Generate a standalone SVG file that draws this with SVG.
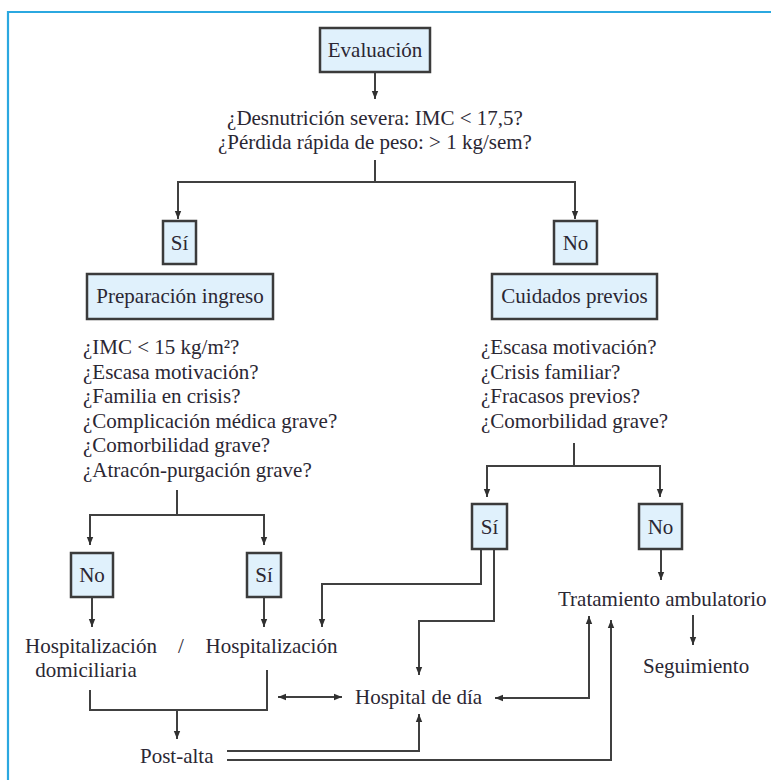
<svg xmlns="http://www.w3.org/2000/svg" width="771" height="780" viewBox="0 0 771 780">
  <style>
    .box { fill: #e0f1fc; stroke: #3b3b3b; stroke-width: 2.5; }
    .t { font-family: 'Liberation Serif', 'DejaVu Serif', serif; font-size: 21px; fill: #2b2733; }
    .c { text-anchor: middle; }
    .ln { fill: none; stroke: #404040; stroke-width: 2; }
    .arr { marker-end: url(#ah); }
  </style>
  <defs>
    <marker id="ah" viewBox="0 0 10 10" refX="10" refY="5" markerWidth="8" markerHeight="8" markerUnits="userSpaceOnUse" orient="auto-start-reverse">
      <path d="M0,1 L10,5 L0,9 z" fill="#303030"/>
    </marker>
  </defs>

  <rect width="771" height="780" fill="#ffffff"/>
  <!-- page frame -->
  <path d="M8,780 V12 H771" fill="none" stroke="#2ba8e0" stroke-width="2.2"/>

  <!-- connectors -->
  <g id="connectors">
    <path class="ln arr" d="M375,72 V99"/>
    <path class="ln arr" d="M375,160 V182 H178 V219"/>
    <path class="ln arr" d="M375,182 H575 V219"/>
    <path class="ln arr" d="M177,490 V515 H90 V545"/>
    <path class="ln arr" d="M177,515 H264 V545"/>
    <path class="ln arr" d="M92,597 V627"/>
    <path class="ln arr" d="M264,597 V627"/>
    <path class="ln" d="M90,690 V710 H267 V670"/>
    <path class="ln arr" d="M177,710 V739"/>
    <path class="ln arr" d="M278,697 H342" marker-start="url(#ah)"/>
    <path class="ln arr" d="M574,443 V466 H487 V497"/>
    <path class="ln arr" d="M574,466 H660 V497"/>
    <path class="ln arr" d="M481,549 V584 H322 V627"/>
    <path class="ln arr" d="M494,549 V621 H419 V675"/>
    <path class="ln arr" d="M661,549 V580"/>
    <path class="ln arr" d="M495,698 H589 V616" marker-start="url(#ah)"/>
    <path class="ln arr" d="M693,615 V645"/>
    <path class="ln arr" d="M227,751 H419 V714"/>
    <path class="ln arr" d="M227,760 H611 V620"/>
  </g>

  <g id="evaluacion">
    <rect class="box" x="320" y="28" width="110" height="44"/>
    <text class="t c" x="375" y="57">Evaluación</text>
  </g>
  <g id="pregunta-inicial">
    <text class="t c" x="375" y="125">¿Desnutrición severa: IMC &lt; 17,5?</text>
    <text class="t c" x="375" y="149">¿Pérdida rápida de peso: &gt; 1 kg/sem?</text>
  </g>
  <g id="si-1">
    <rect class="box" x="163" y="221" width="33" height="43"/>
    <text class="t c" x="179.5" y="250">Sí</text>
  </g>
  <g id="no-1">
    <rect class="box" x="554" y="221" width="43" height="43"/>
    <text class="t c" x="575.5" y="250">No</text>
  </g>
  <g id="preparacion-ingreso">
    <rect class="box" x="87" y="274" width="186" height="45"/>
    <text class="t c" x="180" y="303">Preparación ingreso</text>
  </g>
  <g id="cuidados-previos">
    <rect class="box" x="492" y="274" width="165" height="45"/>
    <text class="t c" x="574.5" y="303">Cuidados previos</text>
  </g>
  <g id="criterios-ingreso">
    <text class="t" x="83" y="354">¿IMC &lt; 15 kg/m²?</text>
    <text class="t" x="83" y="378.5">¿Escasa motivación?</text>
    <text class="t" x="83" y="403">¿Familia en crisis?</text>
    <text class="t" x="83" y="427.5">¿Complicación médica grave?</text>
    <text class="t" x="83" y="452">¿Comorbilidad grave?</text>
    <text class="t" x="83" y="476.5">¿Atracón-purgación grave?</text>
  </g>
  <g id="criterios-cuidados">
    <text class="t" x="481" y="354">¿Escasa motivación?</text>
    <text class="t" x="481" y="378.5">¿Crisis familiar?</text>
    <text class="t" x="481" y="403">¿Fracasos previos?</text>
    <text class="t" x="481" y="427.5">¿Comorbilidad grave?</text>
  </g>
  <g id="no-2">
    <rect class="box" x="71" y="553" width="42" height="44"/>
    <text class="t c" x="92" y="582">No</text>
  </g>
  <g id="si-2">
    <rect class="box" x="247" y="553" width="34" height="44"/>
    <text class="t c" x="264" y="582">Sí</text>
  </g>
  <g id="si-3">
    <rect class="box" x="472" y="504" width="35" height="45"/>
    <text class="t c" x="489.5" y="534">Sí</text>
  </g>
  <g id="no-3">
    <rect class="box" x="639" y="504" width="43" height="45"/>
    <text class="t c" x="660.5" y="534">No</text>
  </g>
  <g id="hospitalizacion-domiciliaria">
    <text class="t c" x="91" y="653">Hospitalización</text>
    <text class="t c" x="86" y="677">domiciliaria</text>
  </g>
  <g id="separador">
    <text class="t c" x="181" y="653">/</text>
  </g>
  <g id="hospitalizacion">
    <text class="t c" x="271.5" y="653">Hospitalización</text>
  </g>
  <g id="hospital-de-dia">
    <text class="t" x="355" y="704">Hospital de día</text>
  </g>
  <g id="tratamiento-ambulatorio">
    <text class="t" x="558" y="606">Tratamiento ambulatorio</text>
  </g>
  <g id="seguimiento">
    <text class="t" x="643" y="673">Seguimiento</text>
  </g>
  <g id="post-alta">
    <text class="t" x="140" y="763">Post-alta</text>
  </g>
</svg>
